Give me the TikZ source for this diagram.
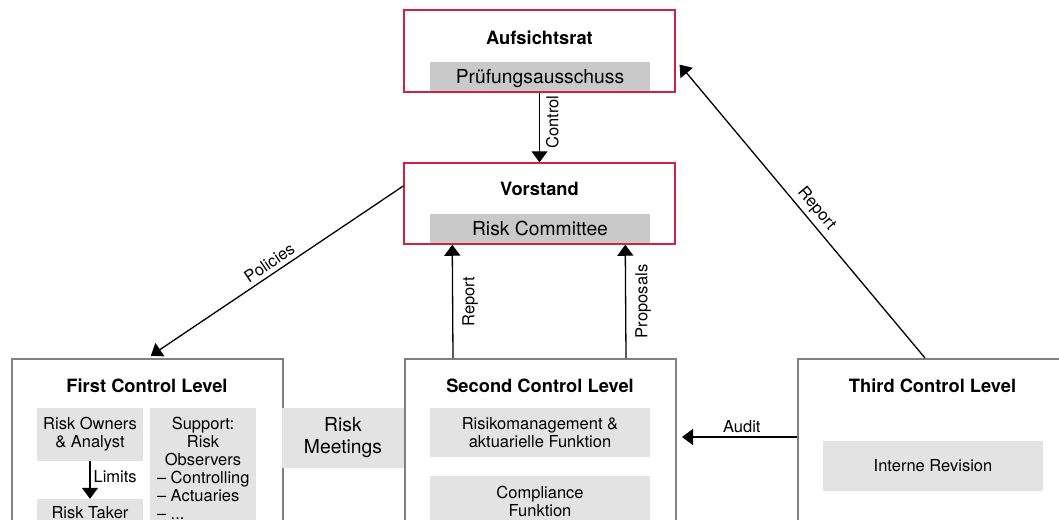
\documentclass[tikz,border=0pt]{standalone}
\usepackage{fontspec}
\setmainfont{TeX Gyre Heros}
\usetikzlibrary{arrows.meta}
\definecolor{rahmenrot}{HTML}{D2213E}
\definecolor{rahmengrau}{HTML}{808080}
\definecolor{hellgrau}{HTML}{E3E3E3}
\definecolor{dunkelgrau}{HTML}{C9C9C9}
\newcommand{\kleinschrift}{\fontsize{16.5}{18}\selectfont}
\newcommand{\mittelschrift}{\fontsize{19.3}{22}\selectfont}
\newcommand{\titelschrift}{\fontsize{18.3}{21}\selectfont\bfseries}
\newcommand{\listenzeile}[1]{\makebox[92pt][l]{#1}}
\begin{document}
\begin{tikzpicture}[x=1pt,y=-1pt,
  redbox/.style={draw=rahmenrot,line width=1.5pt,minimum width=271pt,minimum height=82pt,inner sep=0pt},
  levelbox/.style={draw=rahmengrau,line width=2pt,anchor=north west,minimum width=271pt,minimum height=200pt,inner sep=0pt},
  darkbox/.style={fill=dunkelgrau,minimum width=220pt,minimum height=30pt,inner sep=0pt,text height=13.9pt,text depth=0pt,font=\mittelschrift},
  lightbox/.style={fill=hellgrau,inner sep=0pt,align=center,font=\kleinschrift},
  titel/.style={font=\titelschrift,inner sep=0pt},
  pfeil/.style={line width=1.3pt,-{Triangle[width=16pt,length=11pt]}},
  pfeiltext/.style={font=\kleinschrift}]
\useasboundingbox (0,0) rectangle (1059,519);
\clip (0,0) rectangle (1059,519);
% Aufsichtsrat und Vorstand
\node[darkbox] (pruefung) at (540,77) {Prüfungsausschuss};
\node[redbox] (auf) at (539.5,51) {};
\node[titel] (auf_titel) at (539.5,38) {Aufsichtsrat};
\node[darkbox] (committee) at (540,228.5) {Risk Committee};
\node[redbox,minimum height=81pt] (vorstand) at (539.5,203.5) {};
\node[titel] (vorstand_titel) at (539.5,188.5) {Vorstand};

% Control Level Kaesten
\node[levelbox] (level_one) at (11,358) {};
\node[levelbox] (level_two) at (404,358) {};
\node[levelbox] (level_three) at (797,358) {};
\node[titel] (level_one_titel) at (147,386) {First Control Level};
\node[titel] (level_two_titel) at (540,386) {Second Control Level};
\node[titel] (level_three_titel) at (932.5,386) {Third Control Level};

% Inhalte
\node[lightbox,minimum width=106pt,minimum height=53pt] (owners) at (90,434.5) {Risk Owners\\\& Analyst};
\node[lightbox,minimum width=106pt,minimum height=27pt] (taker) at (90,512.5) {Risk Taker};
\node[lightbox,minimum width=106pt,minimum height=120pt] (support) at (203,468)
  {Support:\\Risk\\Observers\\\listenzeile{– Controlling}\\\listenzeile{– Actuaries}\\\listenzeile{– ...}};
\node[lightbox,minimum width=122pt,minimum height=60pt,font=\mittelschrift] (meetings) at (343,438) {Risk\\Meetings};
\node[lightbox,minimum width=220pt,minimum height=49pt] (risikomgmt) at (540,432.5) {Risikomanagement \&\\aktuarielle Funktion};
\node[lightbox,minimum width=220pt,minimum height=50pt] (compliance) at (540,501) {Compliance\\Funktion};
\node[lightbox,minimum width=220pt,minimum height=50pt] (revision) at (933,466) {Interne Revision};

% Pfeile
\draw[pfeil] (auf.south) -- node[pfeiltext,pos=0.42,rotate=90,anchor=north,inner sep=6pt]{Control} (vorstand.north);
\draw[pfeil] ([yshift=17.5pt]vorstand.west) -- node[pfeiltext,midway,sloped,above,inner sep=4pt]{Policies} (level_one.north) [shorten >=4pt];
\draw[pfeil] ([xshift=49pt]level_two.north west) -- node[pfeiltext,midway,rotate=90,anchor=north,inner sep=9pt]{Report} ([xshift=49pt]vorstand.south west);
\draw[pfeil] ([xshift=222pt]level_two.north west) -- node[pfeiltext,midway,rotate=90,anchor=north,inner sep=9pt]{Proposals} ([xshift=222pt]vorstand.south west);
\draw[pfeil,shorten >=6pt] ([xshift=128pt]level_three.north west) -- node[pfeiltext,pos=0.474,sloped,above,inner sep=4pt]{Report} ([yshift=-9pt]auf.east);
\draw[pfeil,shorten >=5pt] ([yshift=-79pt]level_three.north west) -- node[pfeiltext,pos=0.46,above,inner sep=4pt]{Audit} ([yshift=-79pt]level_two.north east);
\draw[pfeil] (owners.south) -- node[pfeiltext,pos=0.42,right,inner sep=3pt]{Limits} (taker.north);
\end{tikzpicture}
\end{document}
